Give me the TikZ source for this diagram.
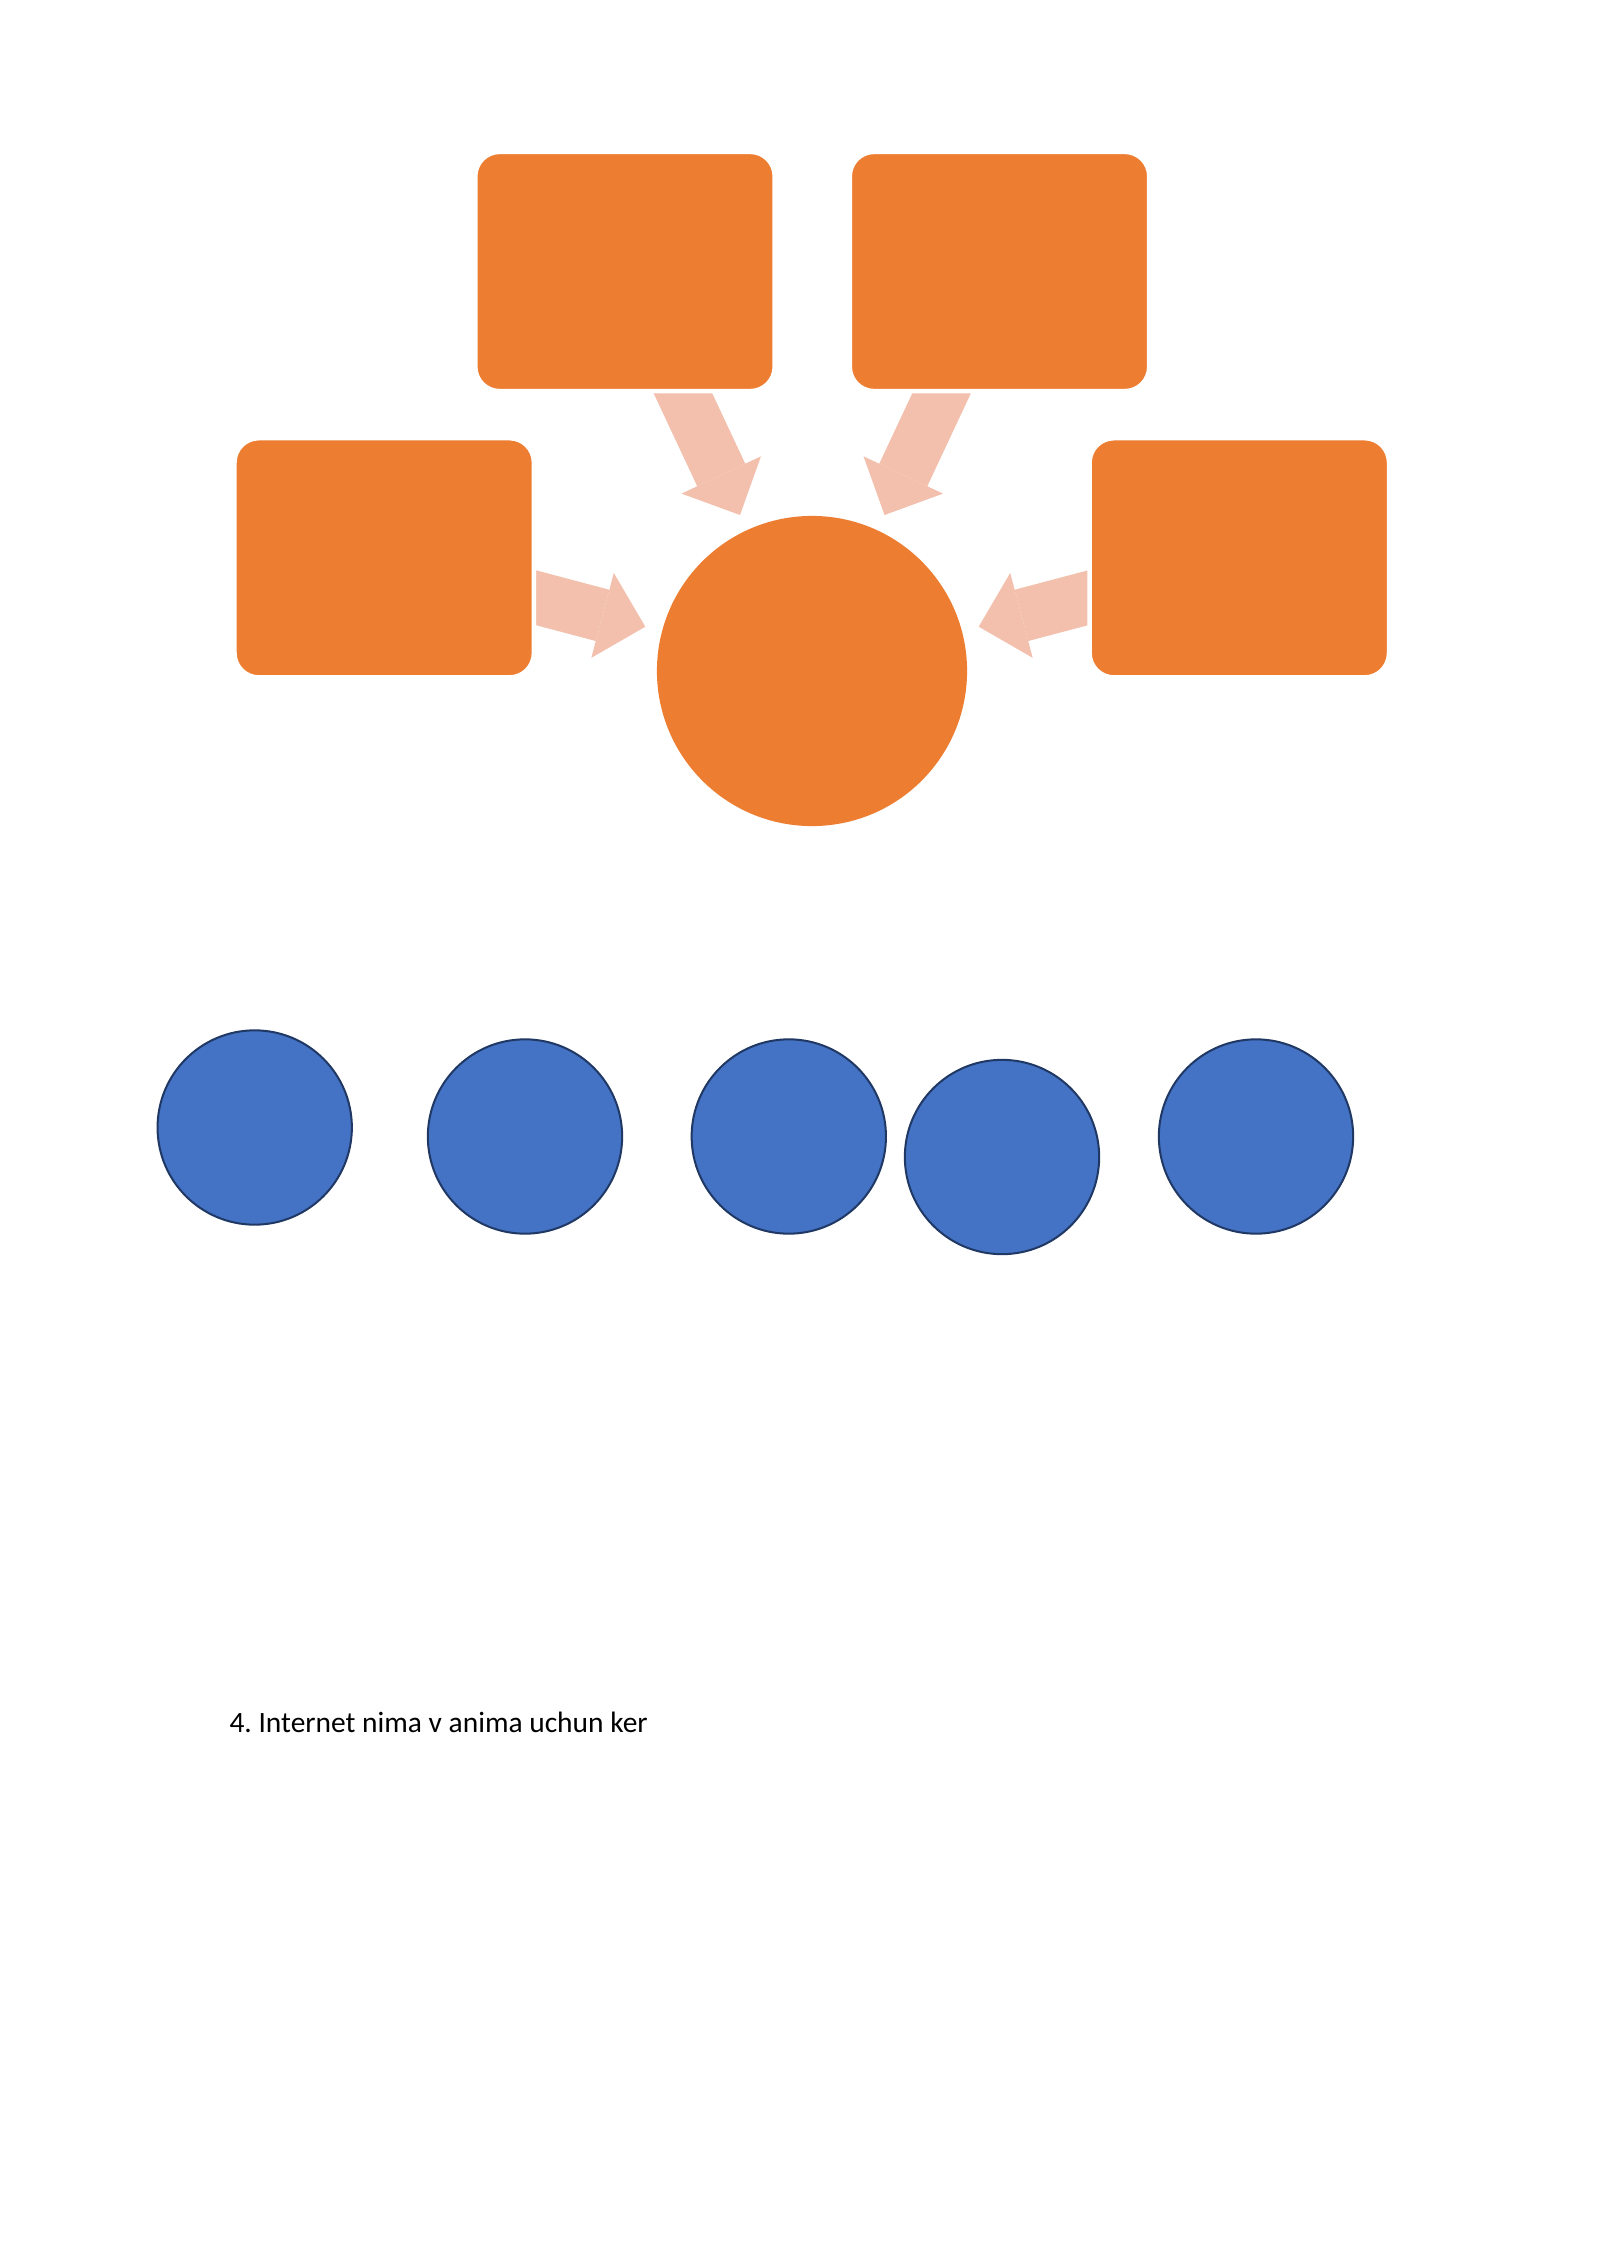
\documentclass[tikz,border=0pt]{standalone}
\usepackage{fontspec}
\setmainfont{Carlito}
\usetikzlibrary{arrows.meta}
\definecolor{boxorange}{HTML}{ED7D31}
\definecolor{arrowpink}{HTML}{F3C0AD}
\definecolor{dotblue}{HTML}{4472C4}
\definecolor{dotedge}{HTML}{203864}
\begin{document}
\begin{tikzpicture}[x=0.013125cm,y=-0.013125cm,
        box/.style={fill=boxorange,draw=white,line width=0.06cm,rounded corners=0.32cm,minimum width=3.93cm,minimum height=3.14cm,inner sep=0pt},
        hub/.style={circle,fill=boxorange,minimum size=4.07cm,inner sep=0pt},
        dot/.style={circle,fill=dotblue,draw=dotedge,line width=0.75pt,minimum size=2.55cm,inner sep=0pt},
        fatarrow/.style={arrowpink,line width=0.696cm,-{Triangle[width=1.151cm,length=0.58cm,line width=0pt]}}]
        \fill[white] (0,0) rectangle (1600,2262);
        \useasboundingbox (0,0) rectangle (1600,2262);
        % arrow ends
        \coordinate (tlTail) at (672,370);
        \coordinate (tlTip) at (740,515);
        \coordinate (trTail) at (952.5,370);
        \coordinate (trTip) at (884.5,515);
        \coordinate (lTail) at (515,592.2);
        \coordinate (lTip) at (645.3,626.7);
        \coordinate (rTail) at (1109,592.2);
        \coordinate (rTip) at (978.7,626.7);
        \draw[fatarrow] (tlTail) -- (tlTip);
        \draw[fatarrow] (trTail) -- (trTip);
        \draw[fatarrow] (lTail) -- (lTip);
        \draw[fatarrow] (rTail) -- (rTip);
        % boxes and hub
        \node[box] (topLeft) at (625,271.5) {};
        \node[box] (topRight) at (999.5,271.5) {};
        \node[box] (left) at (384.2,557.8) {};
        \node[box] (right) at (1239.3,557.8) {};
        \node[hub] (center) at (812,671) {};
        % row of dots
        \node[dot] (dotA) at (254.7,1127.5) {};
        \node[dot] (dotB) at (525,1136.5) {};
        \node[dot] (dotC) at (788.8,1136.5) {};
        \node[dot] (dotD) at (1002,1157) {};
        \node[dot] (dotE) at (1256,1136.5) {};
        \node[anchor=base west,inner sep=0pt,font=\fontsize{11}{13}\selectfont] (caption) at (229,1732) {4.\ Internet nima v anima uchun ker};
    \end{tikzpicture}
\end{document}
